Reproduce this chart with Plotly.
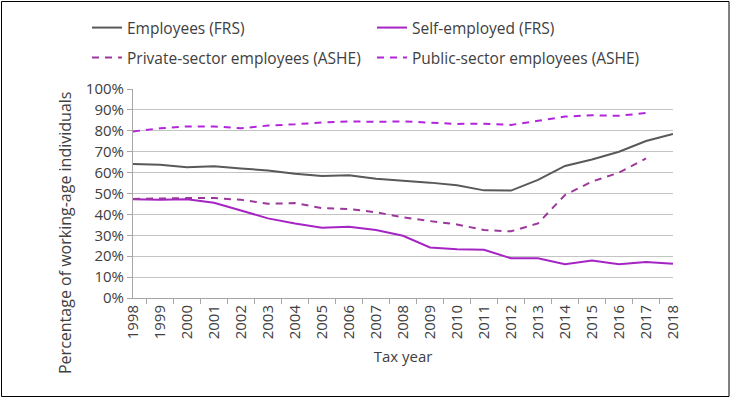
import plotly.graph_objects as go

years = [str(y) for y in range(1998, 2019)]
employees_frs = [64.1, 63.8, 62.6, 63.0, 62.0, 61.0, 59.5, 58.4, 58.7, 57.1, 56.1, 55.2, 53.9, 51.5, 51.4, 56.5, 63.2, 66.3, 70.0, 75.1, 78.5]
self_employed_frs = [47.2, 47.0, 47.2, 45.6, 41.9, 38.1, 35.7, 33.6, 34.1, 32.5, 29.8, 24.2, 23.3, 23.1, 19.0, 19.0, 16.1, 17.9, 16.1, 17.2, 16.4]
private_ashe = [47.4, 47.7, 47.8, 47.8, 47.0, 45.1, 45.4, 43.0, 42.6, 41.0, 38.6, 36.8, 35.2, 32.5, 31.9, 35.7, 49.3, 55.7, 60.0, 66.8, None]
public_ashe = [79.7, 81.2, 82.1, 82.1, 81.2, 82.5, 83.1, 84.0, 84.5, 84.3, 84.5, 83.9, 83.3, 83.4, 82.8, 84.8, 86.8, 87.4, 87.2, 88.5, None]
y_ticks = list(range(0, 101, 10))
y_tick_labels = [f"{v}%" for v in y_ticks]

FONT = "Open Sans, Noto Sans, sans-serif"
TXT = "#404040"

fig = go.Figure()
fig.add_trace(go.Scatter(x=years, y=employees_frs, name="Employees (FRS)", mode="lines",
                         line=dict(color="#595959", width=2), legend="legend"))
fig.add_trace(go.Scatter(x=years, y=self_employed_frs, name="Self-employed (FRS)", mode="lines",
                         line=dict(color="#a524c4", width=2), legend="legend2"))
fig.add_trace(go.Scatter(x=years, y=private_ashe, name="Private-sector employees (ASHE)", mode="lines",
                         line=dict(color="#9c389c", width=2, dash="7px,6px"), legend="legend3"))
fig.add_trace(go.Scatter(x=years, y=public_ashe, name="Public-sector employees (ASHE)", mode="lines",
                         line=dict(color="#b424dc", width=2, dash="7px,6px"), legend="legend4"))

legend_common = dict(orientation="h", xanchor="left", yanchor="middle", xref="container", yref="container",
                     font=dict(family=FONT, size=15.5, color=TXT), bgcolor="rgba(0,0,0,0)",
                     itemwidth=30)

fig.update_layout(
    width=731, height=399,
    margin=dict(l=133, r=58, t=89, b=101, autoexpand=False),
    paper_bgcolor="white", plot_bgcolor="white",
    font=dict(family=FONT, size=14, color=TXT),
    showlegend=True,
    legend=dict(x=87 / 731, y=1 - 28 / 399, **legend_common),
    legend2=dict(x=372 / 731, y=1 - 28 / 399, **legend_common),
    legend3=dict(x=87 / 731, y=1 - 58 / 399, **legend_common),
    legend4=dict(x=372 / 731, y=1 - 58 / 399, **legend_common),
    xaxis=dict(type="category", tickson="boundaries", ticks="outside", ticklen=5, automargin=False,
               tickcolor="#a6a6a6", showline=True, linecolor="#a6a6a6", linewidth=1,
               showgrid=False, tickangle=-90, tickfont=dict(size=15, color=TXT),
               title=dict(text="Tax year", font=dict(size=15, color=TXT), standoff=13)),
    yaxis=dict(range=[0, 100], tickvals=y_ticks, ticktext=y_tick_labels, ticks="outside", ticklen=5,
               automargin=False,
               tickcolor="#a6a6a6", showline=True, linecolor="#a6a6a6", linewidth=1,
               showgrid=True, gridcolor="#c4c4c4", gridwidth=1, zeroline=False,
               tickfont=dict(size=15, color=TXT)),
    annotations=[dict(text="Percentage of working-age individuals", textangle=-90,
                      xref="paper", yref="paper", x=(65 - 133) / 540, y=(298 - 233) / 209,
                      xanchor="center", yanchor="middle", showarrow=False,
                      font=dict(family=FONT, size=16, color=TXT))],
    shapes=[dict(type="rect", xref="paper", yref="paper",
                 x0=(1.5 - 133) / 540, x1=(729 - 133) / 540, y0=(298 - 396.5) / 209, y1=(298 - 1.5) / 209,
                 line=dict(color="black", width=1), fillcolor="rgba(0,0,0,0)", layer="below")],
)

fig.write_html("out.html", config={"displayModeBar": False},
               post_script="document.body.style.margin='0';document.body.style.padding='0';")
